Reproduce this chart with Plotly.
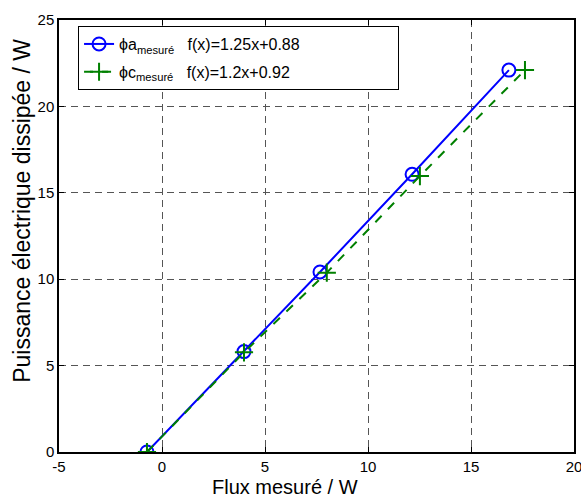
import plotly.graph_objects as go

flux_a = [-0.73, 3.98, 7.67, 12.14, 16.84]
puis_a = [0.0, 5.81, 10.42, 16.07, 22.1]
flux_c = [-0.73, 3.98, 8.0, 12.52, 17.62]
puis_c = [0.0, 5.77, 10.38, 15.97, 22.1]

name_a = "ϕa<sub>mesuré</sub>&nbsp;&nbsp;&nbsp;f(x)=1.25x+0.88" + "&nbsp;" * 21
name_c = "ϕc<sub>mesuré</sub>&nbsp;&nbsp;&nbsp;f(x)=1.2x+0.92" + "&nbsp;" * 21

x_ticks = [-5, 0, 5, 10, 15, 20]
x_labels = ["-5", "0", "5", "10", "15", "20"]
y_ticks = [0, 5, 10, 15, 20, 25]
y_labels = ["0", "5", "10", "15", "20", "25"]

FONT = "Arial, Liberation Sans, Helvetica, sans-serif"

fig = go.Figure()
fig.add_trace(go.Scatter(
    x=flux_a, y=puis_a, mode="lines+markers", name=name_a, legendgroup="a",
    line=dict(color="#0000FF", width=2),
    marker=dict(symbol="circle-open", size=13, color="#0000FF", line=dict(width=2, color="#0000FF")),
))
fig.add_trace(go.Scatter(
    x=flux_c, y=puis_c, mode="lines+markers", name=name_c, legendgroup="c",
    line=dict(color="#008000", width=2, dash="dash"),
    marker=dict(symbol="cross-thin-open", size=13, color="#008000", line=dict(width=2, color="#008000")),
))

axis_common = dict(
    showgrid=True, gridcolor="#555555", griddash="7px,5px", gridwidth=1,
    zeroline=False, showline=True, linecolor="black", linewidth=1.5, mirror="ticks",
    ticks="inside", ticklen=5, tickcolor="black", automargin=False,
    ticklabeloverflow="allow",
    tickfont=dict(family=FONT, size=15, color="black"),
)

fig.update_layout(
    width=581, height=500,
    margin=dict(l=59, r=7, t=20, b=48),
    paper_bgcolor="white", plot_bgcolor="white",
    font=dict(family=FONT, color="black"),
    showlegend=True,
    legend=dict(
        x=0.037, y=0.986, xanchor="left", yanchor="top",
        bgcolor="white", bordercolor="black", borderwidth=1,
        font=dict(family=FONT, size=16, color="black"),
        tracegroupgap=4,
    ),
    xaxis=dict(axis_common, range=[-5, 20], tickvals=x_ticks, ticktext=x_labels),
    yaxis=dict(axis_common, range=[0, 25], tickvals=y_ticks, ticktext=y_labels),
    annotations=[
        dict(text="Flux mesuré / W", xref="paper", yref="paper", x=0.439, y=-0.081,
             xanchor="center", yanchor="middle", showarrow=False,
             font=dict(family=FONT, size=20, color="black")),
        dict(text="Puissance électrique dissipée / W", xref="paper", yref="paper",
             x=-0.072, y=0.558, xanchor="center", yanchor="middle", showarrow=False,
             textangle=-90, font=dict(family=FONT, size=23, color="black")),
    ],
)

fig.write_html("out.html", config={"displayModeBar": False},
               post_script="document.body.style.margin='0';")
